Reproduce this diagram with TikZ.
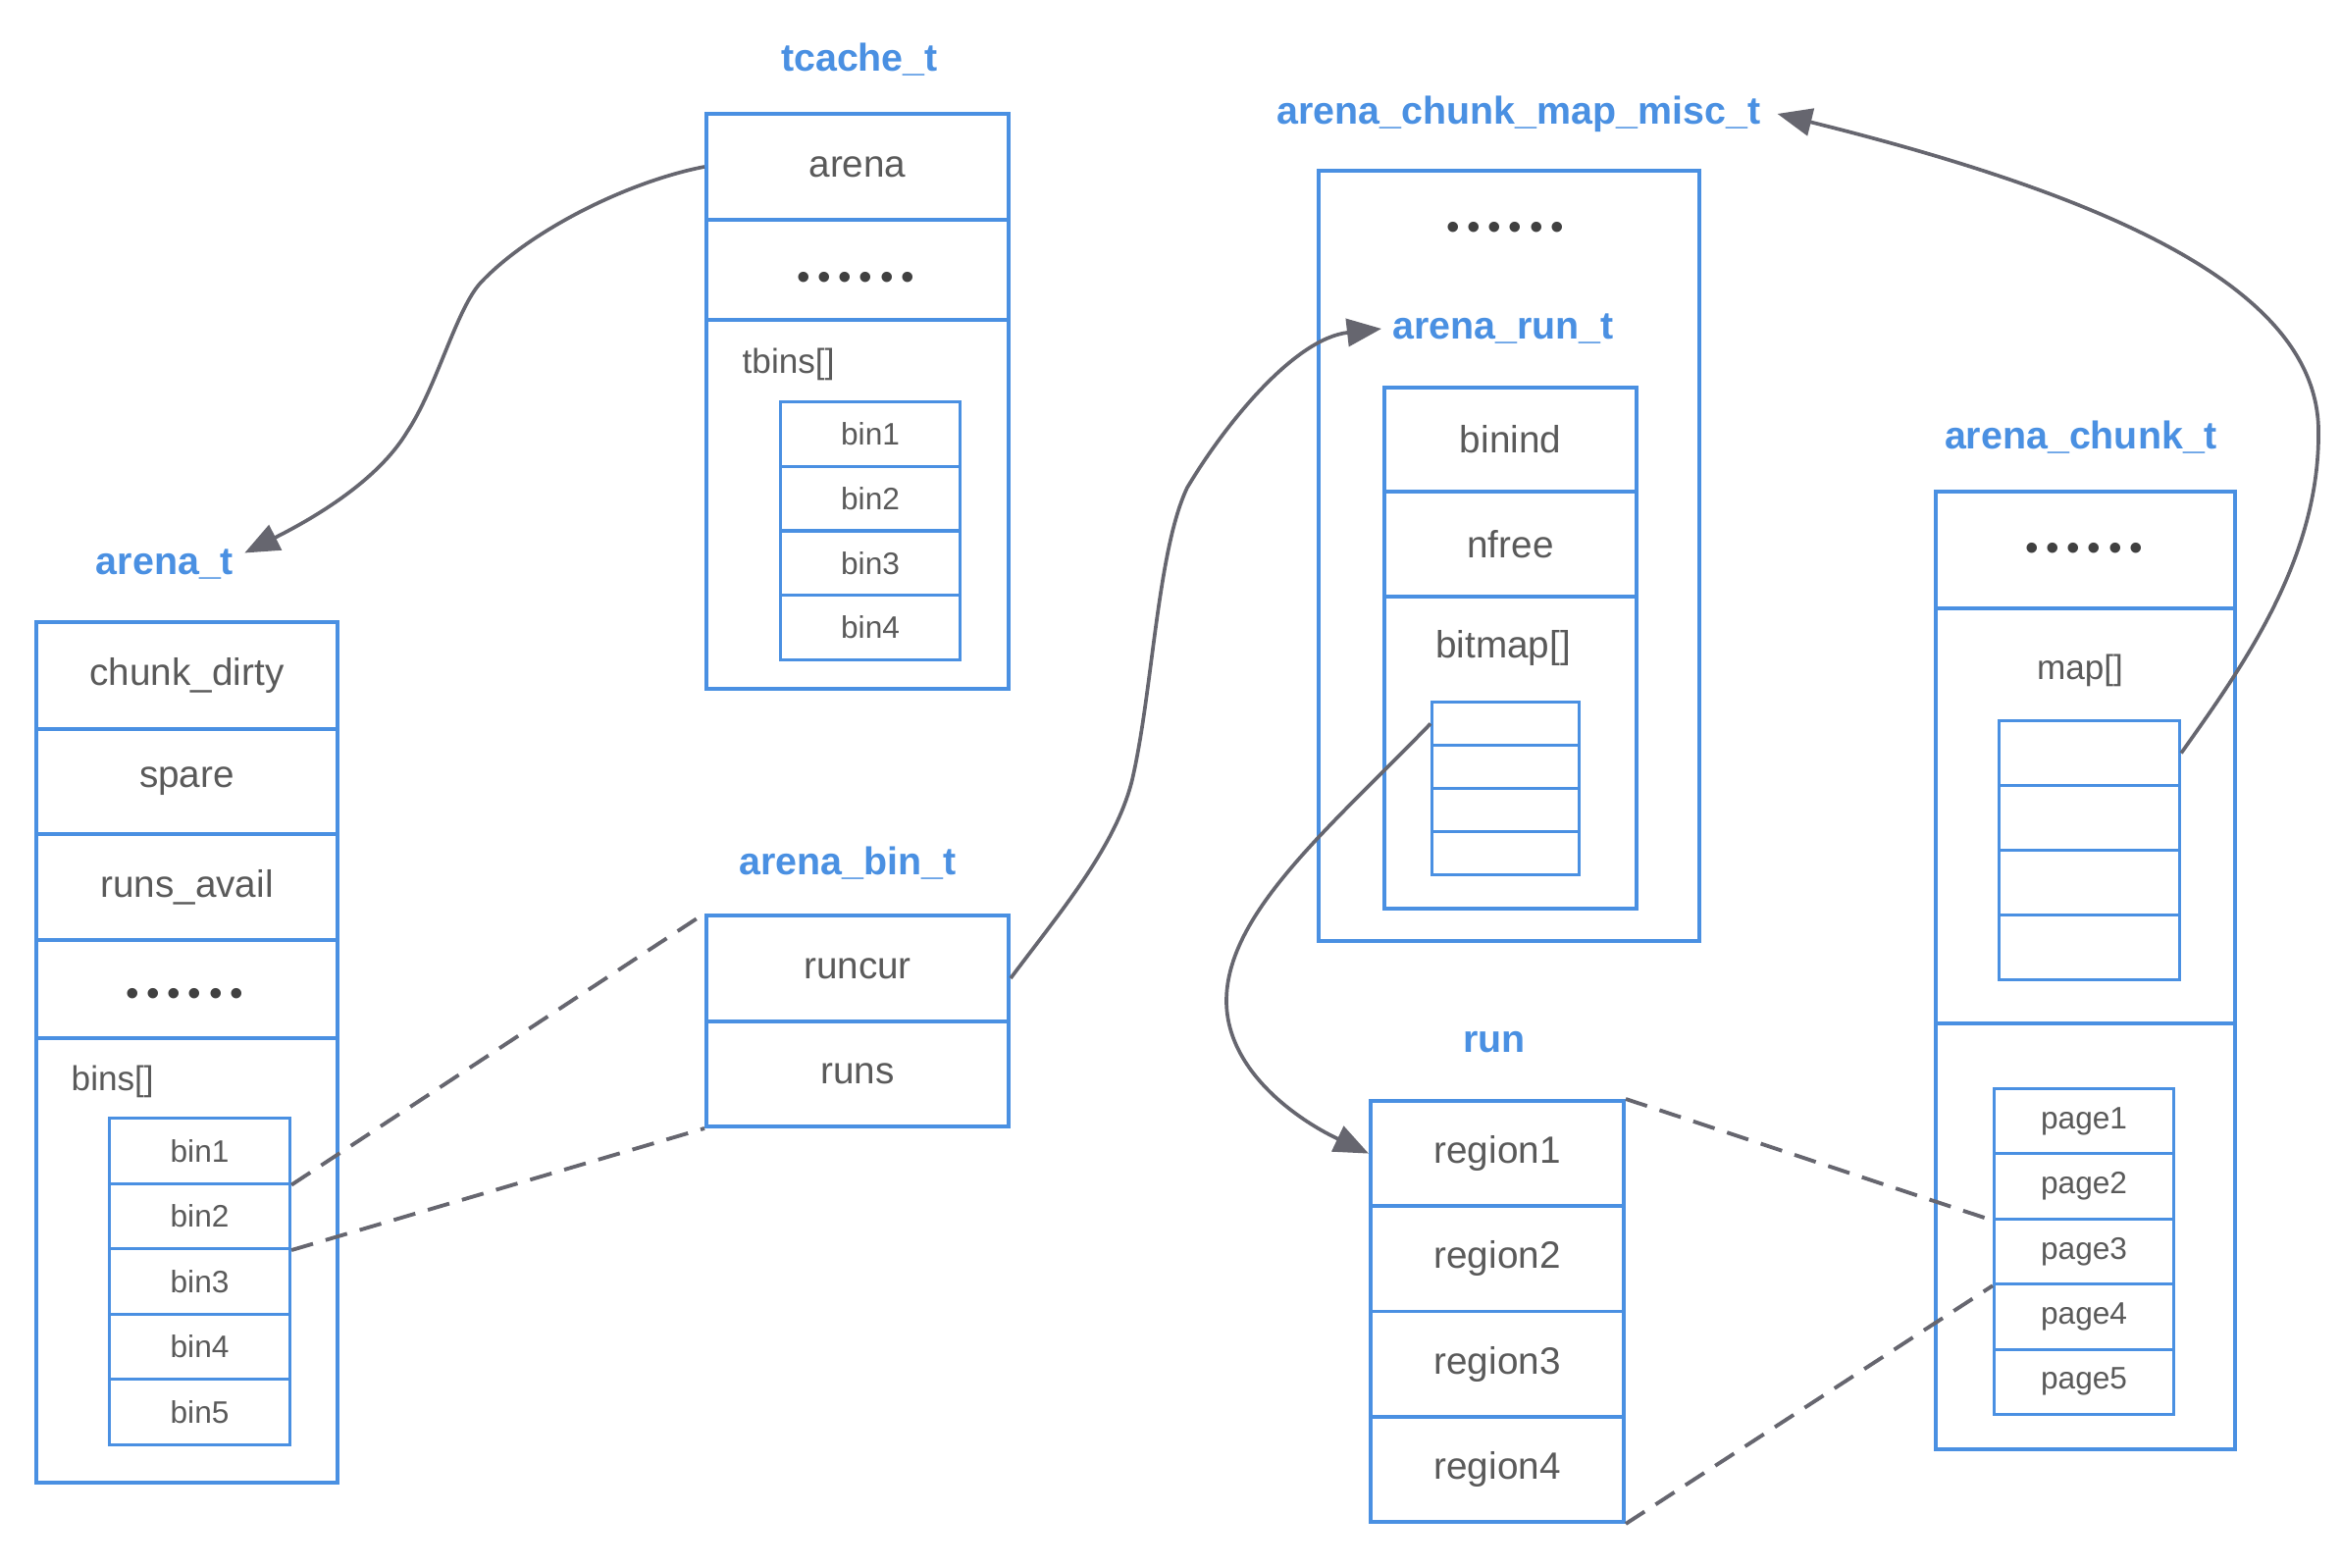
\documentclass[tikz,border=0pt]{standalone}
\usepackage{fontspec}
\setmainfont{Liberation Sans}
\usetikzlibrary{arrows.meta,calc}
\definecolor{sblue}{HTML}{4A90E2}
\definecolor{tgray}{HTML}{5A5A5A}
\definecolor{lgray}{HTML}{66666F}
\definecolor{dgray}{HTML}{404040}
\newcommand\sixdots{{\fontsize{11}{11}\selectfont •\kern2.2pt•\kern2.2pt•\kern2.2pt•\kern2.2pt•\kern2.2pt•}}
\begin{document}
\begin{tikzpicture}[x=0.01cm,y=-0.01cm,
  fieldrow/.style={draw=sblue, line width=1.1pt, inner sep=0pt, anchor=north west, text=tgray, font=\fontsize{11}{13}\selectfont},
  cellrow/.style={draw=sblue, line width=0.85pt, inner sep=0pt, anchor=north west, text=tgray, font=\fontsize{9}{11}\selectfont},
  fieldtext/.style={text=tgray, inner sep=0pt, font=\fontsize{11}{13}\selectfont},
  ttl/.style={text=sblue, font=\fontsize{11.2}{13}\selectfont\bfseries, inner sep=3pt},
  lbl/.style={text=tgray, font=\fontsize{10}{12}\selectfont, inner sep=0pt},
  sdots/.style={text=dgray, inner sep=0pt},
  link/.style={draw=lgray, line width=1.05pt, -{Triangle[length=10pt,width=8pt]}},
  dlink/.style={draw=lgray, line width=1.1pt, dash pattern=on 6.5pt off 3.8pt}]
\fill[white] (0,0) rectangle (2386,1598);
\useasboundingbox (0,0) rectangle (2386,1598);

% tcache_t
\node[ttl] (ttitle) at (876,61) {tcache\_t};
\node[fieldrow, minimum width=3.08cm, minimum height=1.08cm] (tarena) at (718,114) {arena};
\node[fieldrow, minimum width=3.08cm, minimum height=1.02cm] (tetc) at (718,222) {};
\node[sdots] (tdots) at (872,286) {\sixdots};
\node[fieldrow, minimum width=3.08cm, minimum height=3.76cm] (tbinsbox) at (718,324) {};
\node[lbl, anchor=west] (tbinslbl) at (756,371) {tbins[]};
\foreach \i in {1,...,4}
  \node[cellrow, minimum width=1.83cm, minimum height=0.6575cm] (tbin\i) at (794,{408+65.75*(\i-1)}) {bin\i};

% arena_t
\node[ttl] (atitle) at (168,575) {arena\_t};
\node[fieldrow, minimum width=3.07cm, minimum height=1.09cm] (chunkdirty) at (35,632) {chunk\_dirty};
\node[fieldrow, minimum width=3.07cm, minimum height=1.07cm] (spare) at (35,741) {spare};
\node[fieldrow, minimum width=3.07cm, minimum height=1.08cm] (runsavail) at (35,848) {runs\_avail};
\node[fieldrow, minimum width=3.07cm, minimum height=1.00cm] (aetc) at (35,956) {};
\node[sdots] (adots) at (188,1016) {\sixdots};
\node[fieldrow, minimum width=3.07cm, minimum height=4.53cm] (abinsbox) at (35,1056) {};
\node[lbl, anchor=west] (abinslbl) at (72,1102) {bins[]};
\foreach \i in {1,...,5}
  \node[cellrow, minimum width=1.84cm, minimum height=0.665cm] (abin\i) at (110,{1138+66.5*(\i-1)}) {bin\i};

% arena_bin_t
\node[ttl] (btitle) at (864,880) {arena\_bin\_t};
\node[fieldrow, minimum width=3.08cm, minimum height=1.08cm] (runcur) at (718,931) {runcur};
\node[fieldrow, minimum width=3.08cm, minimum height=1.07cm] (runs) at (718,1039) {runs};

% arena_chunk_map_misc_t
\node[ttl] (misctitle) at (1548,116) {arena\_chunk\_map\_misc\_t};
\node[fieldrow, minimum width=3.88cm, minimum height=7.85cm] (miscbox) at (1342,172) {};
\node[sdots] (mdots) at (1534,235) {\sixdots};
\node[ttl] (runtitle) at (1532,335) {arena\_run\_t};
\node[fieldrow, minimum width=2.57cm, minimum height=1.06cm] (binind) at (1409,393) {binind};
\node[fieldrow, minimum width=2.57cm, minimum height=1.07cm] (nfree) at (1409,499) {nfree};
\node[fieldrow, minimum width=2.57cm, minimum height=3.18cm] (bitmapbox) at (1409,606) {};
\node[fieldtext] (bitmaplbl) at (1532,660) {bitmap[]};
\foreach \i in {1,...,4}
  \node[cellrow, minimum width=1.50cm, minimum height=0.44cm] (bm\i) at (1458,{714+44*(\i-1)}) {};

% run
\node[ttl] (rtitle) at (1523,1062) {run};
\foreach \i in {1,...,4}
  \node[fieldrow, minimum width=2.58cm, minimum height=1.0725cm] (region\i) at (1395,{1120+107.25*(\i-1)}) {region\i};

% arena_chunk_t
\node[ttl] (ctitle) at (2121,446) {arena\_chunk\_t};
\node[fieldrow, minimum width=3.05cm, minimum height=1.19cm] (cetc) at (1971,499) {};
\node[sdots] (cdots) at (2124,562) {\sixdots};
\node[fieldrow, minimum width=3.05cm, minimum height=4.23cm] (cmapbox) at (1971,618) {};
\node[lbl] (maplbl) at (2120,683) {map[]};
\foreach \i in {1,...,4}
  \node[cellrow, minimum width=1.84cm, minimum height=0.66cm] (map\i) at (2036,{733+66*(\i-1)}) {};
\node[fieldrow, minimum width=3.05cm, minimum height=4.34cm] (cpagebox) at (1971,1041) {};
\foreach \i in {1,...,5}
  \node[cellrow, minimum width=1.83cm, minimum height=0.664cm] (page\i) at (2031,{1108+66.4*(\i-1)}) {page\i};

% connectors
\draw[link] (tarena.west) .. controls (640,185) and (540,235) .. (490,288)
  .. controls (465,315) and (445,395) .. (415,440)
  .. controls (385,490) and (320,528) .. ($(atitle.north east)+(0,15)$);
\draw[link] ($(runcur.east)+(0,10)$) .. controls (1080,930) and (1140,860) .. (1155,790)
  .. controls (1175,700) and (1180,560) .. (1210,497)
  .. controls (1250,430) and (1320,345) .. (runtitle.west);
\draw[link] (bm1.west) .. controls (1358,841) and (1250,930) .. (1250,1020)
  .. controls (1250,1090) and (1320,1140) .. (region1.west);
\draw[link] (map1.east) .. controls (2285,680) and (2365,570) .. (2363,437)
  .. controls (2360,300) and (2170,205) .. ($(misctitle.east)+(6,0)$);
\draw[dlink] (abin1.south east) -- (runcur.north west);
\draw[dlink] (abin2.south east) -- (runs.south west);
\draw[dlink] (region1.north east) -- (page2.south west);
\draw[dlink] (region4.south east) -- (page3.south west);
\end{tikzpicture}
\end{document}
